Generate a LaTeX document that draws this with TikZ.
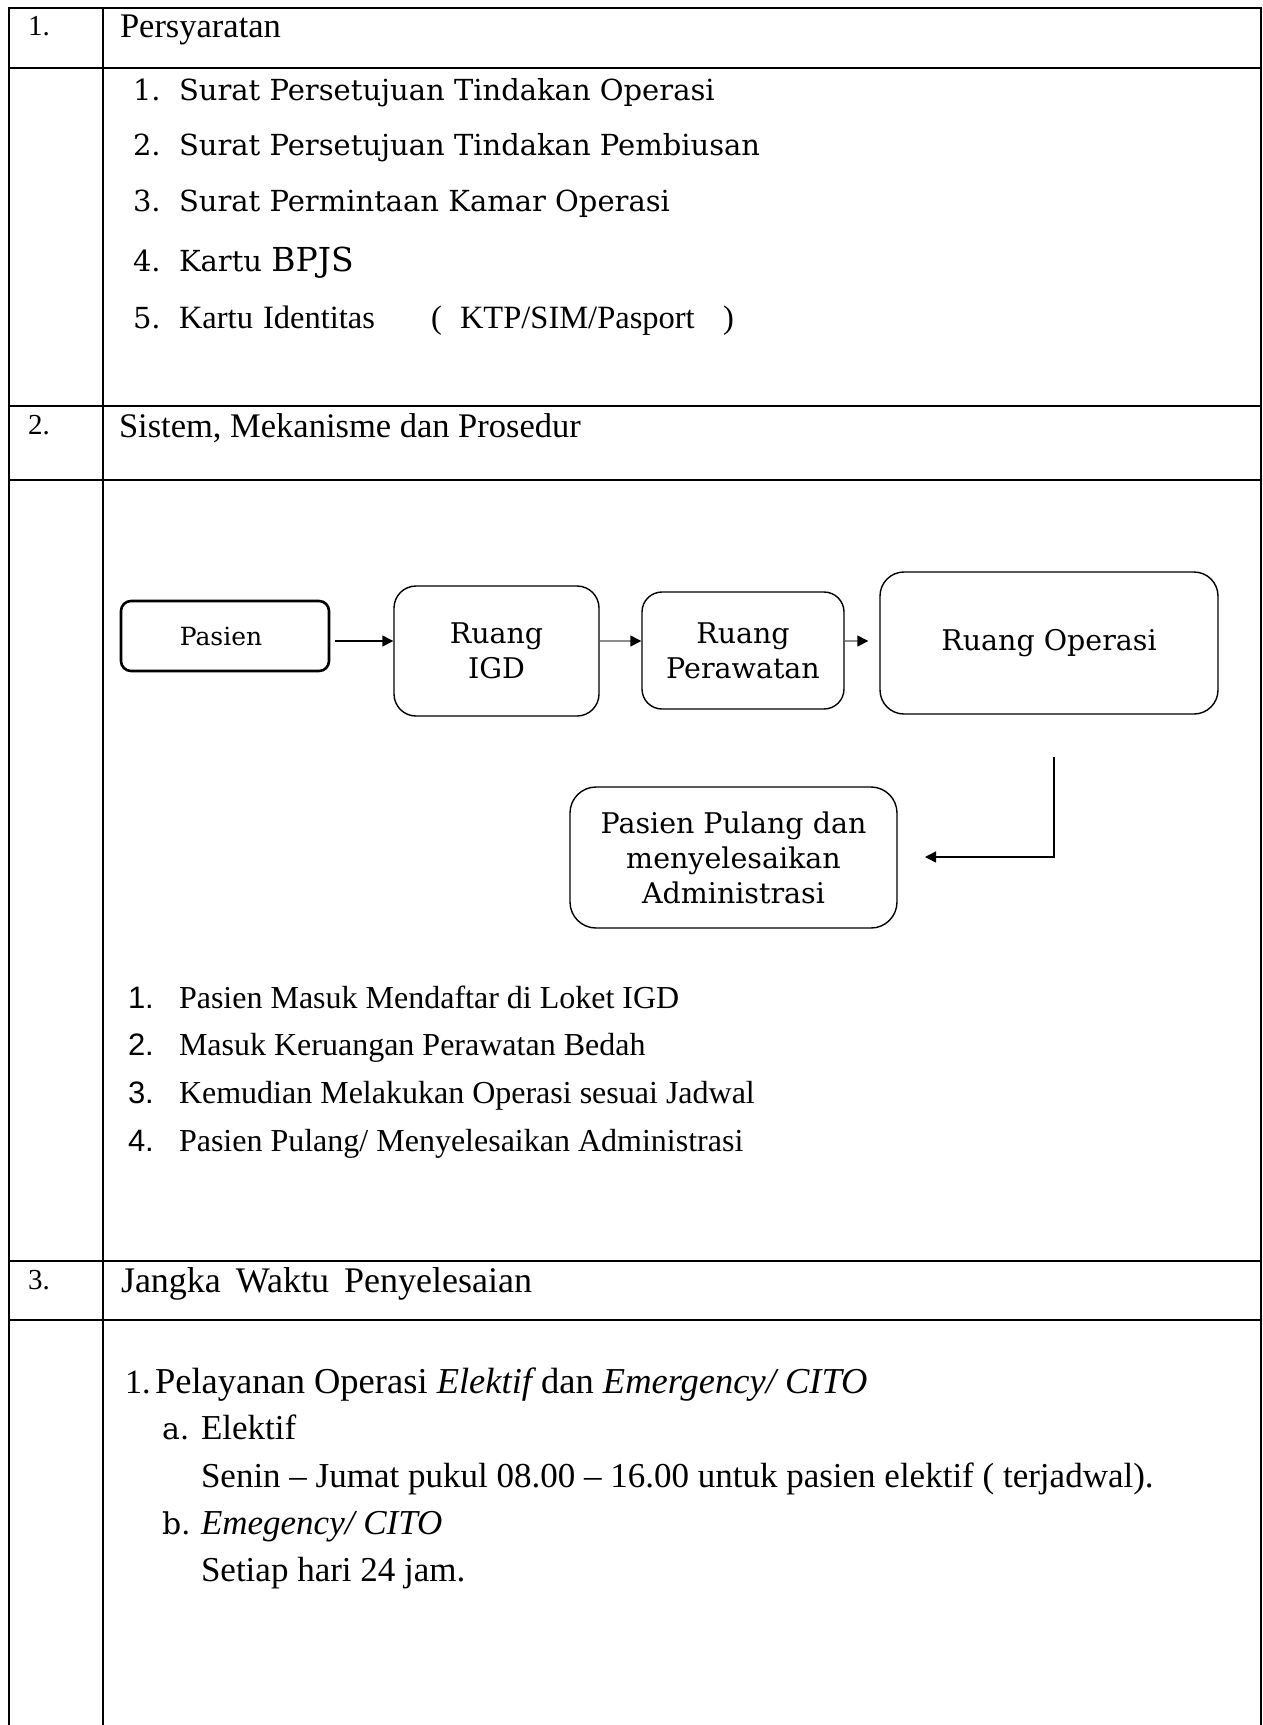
\documentclass[tikz,border=0pt]{standalone}
\usepackage{fontspec}
\newfontfamily\tnr{Liberation Serif}
\newfontfamily\arl{Liberation Sans}
\newfontfamily\bkm{DejaVu Serif}
\usetikzlibrary{arrows.meta}
\begin{document}
\begin{tikzpicture}[x=1pt,y=-1pt,
  grid/.style={line width=2.7pt,line cap=rect},
  txt/.style={anchor=base west,inner sep=0pt,outer sep=0pt},
  headtxt/.style={txt,font=\tnr\fontsize{34.5}{40}\selectfont},
  coltxt/.style={txt,font=\tnr\fontsize{29}{34}\selectfont},
  bktxt/.style={txt,font=\bkm\fontsize{29}{36}\selectfont},
  tnrtxt/.style={txt,font=\tnr\fontsize{32.5}{40}\selectfont},
  sanum/.style={txt,font=\arl\fontsize{31}{36}\selectfont},
  listtwo/.style={txt,font=\tnr\fontsize{32}{38}\selectfont},
  bkthree/.style={txt,font=\bkm\fontsize{30}{36}\selectfont},
  listthree/.style={txt,font=\tnr\fontsize{35}{40}\selectfont},
  box/.style={draw,rounded corners=#1,line width=1.4pt,align=center,inner sep=0pt,
    font=\bkm\fontsize{28.5}{35}\selectfont},
  box/.default=20pt,
  arr/.style={line width=1.4pt,-{Triangle[length=11pt,width=11pt]}},
  garr/.style={line width=1.4pt,draw=black!45,-{Triangle[length=11pt,width=11pt,color=black]}}
]
\useasboundingbox (0,0) rectangle (1263,1725);
\fill[white] (0,0) rectangle (1263,1725);

% table grid
\draw[grid] (9,8) -- (1261,8);
\draw[grid] (9,68) -- (1261,68);
\draw[grid] (9,406) -- (1261,406);
\draw[grid] (9,480) -- (1261,480);
\draw[grid] (9,1261) -- (1261,1261);
\draw[grid] (9,1320) -- (1261,1320);
\draw[grid] (9,8) -- (9,1725);
\draw[grid] (103,8) -- (103,1725);
\draw[grid] (1261,8) -- (1261,1725);

% column one numbers
\node[coltxt] (c1) at (28,35) {1.};
\node[coltxt] (c2) at (28,434) {2.};
\node[coltxt] (c3) at (28,1289) {3.};

% headings
\node[headtxt] (h1) at (120,37) {Persyaratan};
\node[headtxt] (h2) at (119,437) {Sistem, Mekanisme dan Prosedur};
\node[headtxt,font=\tnr\fontsize{36}{40}\selectfont] (h3) at (121,1292)
  {Jangka\hspace{15pt}Waktu\hspace{15pt}Penyelesaian};

% row 1 list
\node[bktxt] (p1n) at (133,100) {1.};
\node[bktxt] (p1t) at (179,100) {Surat Persetujuan Tindakan Operasi};
\node[bktxt] (p2n) at (133,155) {2.};
\node[bktxt] (p2t) at (179,155) {Surat Persetujuan Tindakan Pembiusan};
\node[bktxt] (p3n) at (133,211) {3.};
\node[bktxt] (p3t) at (179,211) {Surat Permintaan Kamar Operasi};
\node[bktxt] (p4n) at (133,271) {4.};
\node[bktxt] (p4t) at (179,271) {Kartu {\fontsize{33}{40}\selectfont BPJS}};
\node[bktxt] (p5n) at (133,328) {5.};
\node[tnrtxt] (p5a) at (179,328) {Kartu};
\node[tnrtxt] (p5b) at (263,328) {Identitas};
\node[tnrtxt] (p5c) at (431,328) {(};
\node[tnrtxt] (p5d) at (460,328) {KTP/SIM/Pasport};
\node[tnrtxt] (p5e) at (723,328) {)};

% flow diagram
\node[box=10pt,line width=2.6pt,minimum width=208pt,minimum height=70pt,
  font=\bkm\fontsize{25}{30}\selectfont] (pasien) at (225,636) {Pasien\hspace{8pt}};
\node[box=22pt,minimum width=205pt,minimum height=130pt] (igd) at (496.5,651) {Ruang\\IGD};
\node[box=20pt,minimum width=202pt,minimum height=117pt] (rawat) at (743,650.5) {Ruang\\Perawatan};
\node[box=24pt,minimum width=338pt,minimum height=142pt] (ops) at (1049,643) {Ruang Operasi};
\node[box=26pt,minimum width=327pt,minimum height=141pt] (pulang) at (733.5,857.5)
  {Pasien Pulang dan\\menyelesaikan\\Administrasi};

\coordinate (ay) at (0,641);
\draw[arr,shorten <=5pt] (pasien.east |- ay) -- (igd.west |- ay);
\draw[garr] (igd.east |- ay) -- (rawat.west |- ay);
\draw[garr,shorten >=11pt] (rawat.east |- ay) -- (ops.west |- ay);
\coordinate (e1) at (1054,757);
\coordinate (e2) at (925,857);
\draw[arr] (e1) |- (e2);

% row 2 list
\node[sanum] (s1n) at (128,1008) {1.};
\node[listtwo] (s1t) at (179,1008) {Pasien Masuk Mendaftar di Loket IGD};
\node[sanum] (s2n) at (128,1055) {2.};
\node[listtwo] (s2t) at (179,1055) {Masuk Keruangan Perawatan Bedah};
\node[sanum] (s3n) at (128,1103) {3.};
\node[listtwo] (s3t) at (179,1103) {Kemudian Melakukan Operasi sesuai Jadwal};
\node[sanum] (s4n) at (128,1151) {4.};
\node[listtwo] (s4t) at (179,1151) {Pasien Pulang/ Menyelesaikan Administrasi};

% row 3 list
\node[listthree,font=\tnr\fontsize{34}{40}\selectfont] (j1n) at (125,1393) {1.};
\node[listthree,font=\tnr\fontsize{36.5}{40}\selectfont] (j1t) at (155,1393)
  {Pelayanan Operasi {\itshape Elektif} dan {\itshape Emergency/ CITO}};
\node[bkthree] (jan) at (162,1439) {a.};
\node[listthree] (jat) at (201,1439) {Elektif};
\node[listthree] (jad) at (201,1487) {Senin – Jumat pukul 08.00 – 16.00 untuk pasien elektif ( terjadwal).};
\node[bkthree] (jbn) at (162,1534) {b.};
\node[listthree] (jbt) at (201,1534) {\itshape Emegency/ CITO};
\node[listthree] (jbd) at (201,1581) {Setiap hari 24 jam.};
\end{tikzpicture}
\end{document}
